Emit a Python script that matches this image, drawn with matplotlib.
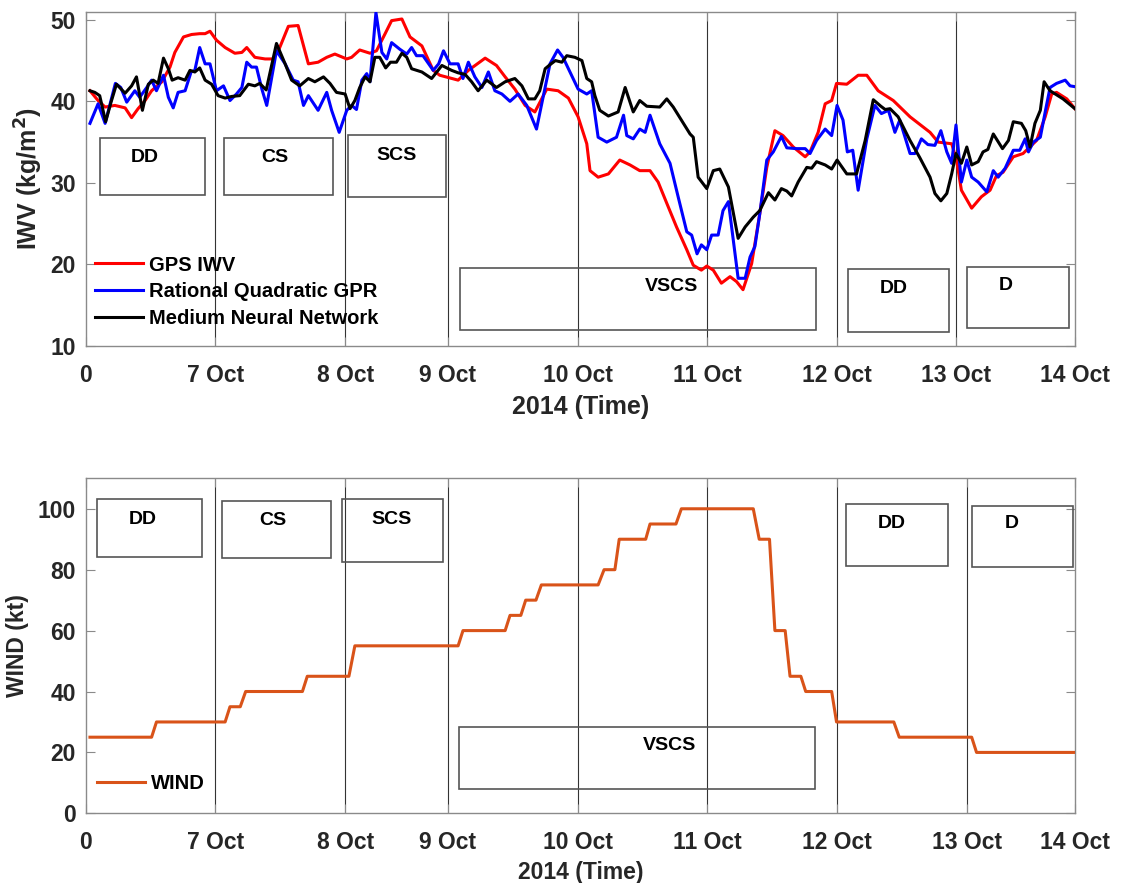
import matplotlib
matplotlib.use("Agg")
import matplotlib.pyplot as plt
from matplotlib.patches import Rectangle

# ---- data (x = hours since start of record) ----
gps_t = [0.8, 2.3, 3.6, 5.4, 7.3, 8.5, 9.7, 11, 12.2, 14.1,
         15.6, 16.5, 18.1, 19.6, 21.1, 22.1, 23, 24.2, 25.8, 27.6,
         28.9, 29.8, 31.3, 33.2, 34.7, 35.9, 37.5, 39.3, 41.2, 43.0,
         44.6, 46.1, 48.3, 49.2, 50.7, 52.6, 53.8, 55.4, 56.6, 58.5,
         60.0, 62.2, 64.3, 65.5, 68.9, 70.8, 73.9, 76.0, 77.6, 79.4,
         81.3, 83.1, 85.3, 87.4, 89.3, 91.1, 92.7, 93.3, 94.8, 96.7,
         98.8, 100.7, 102.5, 104.4, 105.9, 107.5, 109.3, 111.2, 112.4, 113.9,
         114.9, 116.1, 117.6, 119.2, 120.4, 121.6, 123.2, 124.7, 126.0, 127.5,
         129.0, 130.9, 133.1, 134.0, 135.5, 136.8, 138.0, 138.9, 140.8, 142.9,
         144.5, 146.6, 149.4, 152.5, 156.2, 157.7, 160.2, 161.1, 162.0, 163.9,
         165.7, 167.3, 168.5, 169.7, 171.6, 173.4, 175.9, 177.5, 178.7, 179.6,
         181.5, 183]
gps_iwv = [41.3, 40.1, 39.3, 39.5, 39.2, 38.0, 39.1, 40.1, 41.3, 42.4,
           44.2, 46.0, 47.9, 48.2, 48.3, 48.3, 48.6, 47.5, 46.6, 45.9,
           46.0, 46.6, 45.4, 45.2, 45.2, 46.6, 49.2, 49.3, 44.6, 44.8,
           45.4, 45.8, 45.2, 45.4, 46.3, 45.9, 46.2, 48.3, 49.9, 50.1,
           47.9, 46.8, 43.8, 43.2, 42.6, 43.8, 45.3, 44.4, 43.0, 41.5,
           39.5, 38.7, 41.5, 41.3, 40.4, 38.1, 34.8, 31.5, 30.7, 31.1,
           32.8, 32.2, 31.5, 31.5, 30.1, 27.5, 24.6, 21.8, 19.9, 19.3,
           19.8, 19.3, 17.7, 18.5, 17.9, 16.9, 20.1, 26.2, 31.9, 36.4,
           35.8, 34.4, 33.2, 33.8, 36.2, 39.7, 40.1, 42.2, 42.1, 43.2,
           43.2, 41.3, 40.1, 38.1, 36.2, 35.0, 34.8, 32.8, 29.1, 26.9,
           28.3, 29.1, 30.9, 31.3, 33.2, 33.6, 35.2, 38.1, 40.9, 41.1,
           40.3, 39.1]

gpr_t = [0.8, 2.3, 3.6, 5.5, 6.5, 7.6, 9.1, 10.0, 11.3, 12.2,
         13.1, 14.4, 15.3, 16.2, 17.1, 18.4, 19.5, 20.2, 21.1, 22.1,
         23.0, 24.2, 25.5, 26.7, 27.9, 28.9, 29.8, 30.7, 31.6, 32.6,
         33.5, 35.3, 36.9, 38.4, 39.3, 40.3, 41.2, 43.0, 44.6, 45.5,
         46.9, 48.3, 49.2, 50.1, 51.1, 52.0, 52.6, 53.7, 54.8, 55.7,
         56.6, 58.1, 59.4, 60.3, 61.2, 62.4, 64.3, 65.3, 66.2, 67.4,
         68.9, 69.8, 70.8, 72.0, 73.3, 74.5, 75.7, 77.0, 78.5, 80.0,
         81.6, 83.4, 85.0, 85.9, 87.3, 88.3, 89.6, 91.1, 92.7, 93.6,
         94.8, 96.4, 98.2, 99.5, 100.1, 101.3, 102.5, 103.5, 104.4, 106.2,
         108.1, 109.6, 111.2, 112.1, 113.1, 113.9, 114.9, 115.8, 117.0, 117.9,
         118.9, 119.8, 120.7, 122.0, 122.9, 123.8, 124.7, 126.0, 127.2, 128.7,
         129.7, 131.5, 133.1, 134.0, 135.2, 136.8, 138.0, 139.0, 140.1, 140.9,
         141.9, 142.9, 144.5, 146.0, 147.2, 148.5, 149.7, 150.6, 152.5, 153.4,
         154.6, 155.8, 157.1, 158.2, 159.3, 160.2, 161.0, 162.0, 163.0, 163.9,
         165.1, 166.7, 167.9, 168.8, 170.1, 171.6, 172.8, 173.8, 174.4, 175.3,
         176.6, 177.5, 178.4, 179.6, 181.2, 182.1, 183]
gpr_iwv = [37.3, 39.7, 37.3, 42.2, 41.7, 39.9, 41.3, 40.5, 41.7, 42.6,
           41.3, 43.2, 40.5, 39.2, 41.1, 41.3, 43.6, 43.8, 46.6, 44.6,
           44.6, 41.3, 41.9, 40.1, 40.9, 41.7, 44.8, 44.2, 44.2, 41.5,
           39.5, 46.2, 44.6, 42.6, 42.4, 39.5, 40.7, 38.9, 41.1, 38.9,
           36.2, 38.9, 39.5, 39.0, 42.6, 43.4, 42.4, 50.9, 46.0, 45.2,
           47.2, 46.4, 45.8, 46.6, 45.6, 45.6, 43.8, 44.6, 46.2, 44.6,
           44.6, 42.8, 44.8, 43.0, 41.7, 43.6, 41.3, 40.9, 40.0, 40.9,
           39.5, 36.6, 41.7, 44.6, 46.3, 45.4, 43.6, 41.5, 40.9, 41.3,
           35.6, 35.0, 35.6, 38.3, 35.8, 35.4, 36.6, 36.2, 38.3, 34.8,
           32.4, 28.3, 24.0, 23.6, 21.3, 22.4, 21.8, 23.6, 23.6, 26.6,
           27.7, 23.0, 18.3, 18.3, 20.9, 22.2, 26.2, 32.8, 33.8, 35.7,
           34.3, 34.2, 34.2, 33.6, 35.2, 36.6, 35.8, 39.5, 37.7, 33.8,
           34.0, 29.1, 35.4, 39.5, 38.5, 38.9, 36.2, 37.7, 33.6, 33.6,
           35.4, 34.7, 34.6, 36.4, 33.8, 32.4, 37.1, 30.1, 32.8, 30.7,
           30.1, 28.9, 31.5, 30.7, 31.8, 34.0, 34.0, 35.4, 33.8, 35.0,
           35.6, 38.7, 41.7, 42.2, 42.6, 41.9, 41.8]

nn_t = [0.8, 1.7, 2.6, 3.7, 4.7, 5.7, 7.3, 8.5, 9.4, 10.5,
        11.6, 12.5, 13.4, 14.4, 15.3, 16.0, 17.1, 18.4, 19.3, 20.2,
        21.1, 22.1, 23.3, 24.5, 25.8, 27.0, 28.5, 30.1, 31.3, 32.2,
        33.4, 35.3, 36.9, 38.1, 39.6, 41.2, 42.4, 44.0, 45.2, 46.4,
        48.0, 48.9, 49.8, 50.7, 51.7, 52.6, 53.5, 54.4, 55.5, 56.4,
        57.5, 58.5, 59.4, 60.3, 62.2, 64.0, 65.9, 67.7, 68.9, 70.2,
        71.4, 72.6, 74.2, 76.0, 77.6, 79.4, 80.7, 81.9, 83.1, 84.0,
        85.0, 85.9, 86.9, 88.1, 89.0, 90.5, 91.8, 92.7, 93.6, 94.2,
        95.1, 96.7, 98.5, 99.8, 101.3, 102.5, 103.8, 106.2, 107.5, 108.7,
        110.2, 111.8, 112.4, 113.3, 114.9, 116.1, 117.3, 118.9, 120.7, 122.0,
        123.5, 124.7, 126.3, 127.5, 128.7, 129.7, 130.6, 131.8, 133.4, 134.3,
        135.2, 136.8, 138.0, 139.0, 140.8, 142.6, 144.2, 145.7, 147.1, 147.9,
        148.8, 150.3, 152.5, 154.3, 156.2, 157.1, 158.2, 159.3, 160.2, 161.0,
        162.0, 163.0, 163.9, 165.1, 166.0, 166.9, 167.9, 169.6, 170.7, 171.6,
        173.1, 173.9, 174.7, 175.6, 176.6, 177.3, 178.4, 180.8, 183]
nn_iwv = [41.3, 41.1, 40.7, 37.5, 39.9, 42.1, 41.0, 41.9, 43.0, 38.9,
          42.1, 42.6, 42.2, 45.3, 44.0, 42.6, 42.9, 42.6, 43.8, 43.6,
          44.1, 42.6, 42.1, 40.7, 40.4, 40.6, 40.7, 42.1, 41.9, 42.2,
          41.4, 47.1, 44.6, 42.6, 41.9, 42.8, 42.4, 43.0, 42.2, 41.1,
          40.9, 39.1, 40.1, 41.7, 43.0, 42.4, 45.4, 45.4, 44.1, 44.8,
          44.8, 45.9, 45.4, 44.0, 43.6, 42.8, 44.4, 43.8, 43.5, 43.3,
          42.4, 41.3, 42.6, 41.7, 42.4, 42.8, 41.9, 40.3, 40.3, 41.3,
          44.0, 44.5, 45.0, 44.8, 45.6, 45.4, 45.0, 42.8, 42.4, 40.7,
          38.9, 38.2, 38.7, 41.7, 38.7, 40.1, 39.4, 39.3, 40.3, 39.3,
          37.7, 36.0, 35.6, 30.7, 29.3, 31.5, 31.7, 29.5, 23.2, 24.6,
          25.8, 26.6, 28.8, 27.9, 29.3, 29.0, 28.4, 30.1, 31.9, 31.8,
          32.6, 32.2, 31.7, 32.8, 31.1, 31.1, 35.2, 40.2, 39.4, 39.0,
          39.1, 38.1, 35.2, 33.1, 30.7, 28.7, 27.8, 28.7, 31.1, 33.6,
          32.4, 34.4, 32.2, 32.6, 33.8, 34.1, 36.0, 34.2, 35.2, 37.5,
          37.3, 36.4, 34.4, 37.3, 38.9, 42.4, 41.3, 40.3, 39.1]

wind_t = [0.8, 12.2, 13.1, 25.8, 26.7, 28.6, 29.6, 40.1, 41.0, 48.7,
          49.8, 68.9, 69.8, 77.6, 78.5, 80.5, 81.4, 83.3, 84.3, 94.8,
          95.9, 97.9, 98.7, 103.6, 104.4, 109.2, 110.2, 123.5, 124.6, 126.5,
          127.5, 129.4, 130.3, 132.3, 133.2, 138.0, 138.9, 149.5, 150.5, 163.9,
          164.8, 183]
wind_kt = [25, 25, 30, 30, 35, 35, 40, 40, 45, 45,
           55, 55, 60, 60, 65, 65, 70, 70, 75, 75,
           80, 80, 90, 90, 95, 95, 100, 100, 90, 90,
           60, 60, 45, 45, 40, 40, 30, 30, 25, 25,
           20, 20]

tick_labels = ["0", "7 Oct", "8 Oct", "9 Oct", "10 Oct", "11 Oct",
               "12 Oct", "13 Oct", "14 Oct"]
top_ticks = [0, 24, 48, 67, 91, 115, 139, 161, 183]
bottom_ticks = [0, 24, 48, 67, 91, 115, 139, 163, 183]

stages = ["DD", "CS", "SCS", "VSCS", "DD", "D"]

# ---- layout of the stage boxes (axes fraction: x0, x1, y0, y1, text x, text y) ----
top_boxes = [
    (0.0145, 0.1203, 0.451, 0.623, 0.060, 0.563),
    (0.1398, 0.2500, 0.451, 0.623, 0.1914, 0.563),
    (0.2654, 0.3639, 0.4466, 0.631, 0.3147, 0.571),
    (0.3787, 0.7385, 0.0479, 0.2324, 0.5923, 0.1765),
    (0.7702, 0.8723, 0.0428, 0.2294, 0.8171, 0.1705),
    (0.8908, 0.9942, 0.0529, 0.2372, 0.930, 0.1795),
]
bottom_boxes = [
    (0.0111, 0.1179, 0.766, 0.9373, 0.0576, 0.8785),
    (0.1378, 0.2480, 0.7612, 0.9331, 0.189, 0.8755),
    (0.2588, 0.3615, 0.751, 0.9382, 0.3096, 0.8785),
    (0.3773, 0.7372, 0.0716, 0.2585, 0.5906, 0.2039),
    (0.7688, 0.8713, 0.7391, 0.9233, 0.8153, 0.8666),
    (0.8962, 0.9983, 0.7343, 0.9182, 0.936, 0.8654),
]

plt.rcParams.update({
    "font.family": ["Liberation Sans", "DejaVu Sans"],
    "font.weight": "bold",
    "axes.labelweight": "bold",
})

TXT = "#262626"
FRAME = "#8a8a8a"


def style_axis(ax, ticks):
    ax.set_xlim(0, 183)
    ax.set_xticks(ticks)
    ax.set_xticklabels(tick_labels)
    for x in ticks[1:-1]:
        ax.axvline(x, color="#333333", linewidth=0.8, zorder=1)
    for side in ax.spines.values():
        side.set_color(FRAME)
        side.set_linewidth(1.0)
    ax.tick_params(axis="both", direction="in", length=6.5, width=0.8,
                   colors=FRAME, labelcolor=TXT, labelsize=16.5,
                   top=True, right=True)
    ax.tick_params(axis="x", pad=13)
    ax.tick_params(axis="y", pad=7)


def add_boxes(ax, boxes):
    for name, (x0, x1, y0, y1, tx, ty) in zip(stages, boxes):
        ax.add_patch(Rectangle((x0, y0), x1 - x0, y1 - y0, transform=ax.transAxes,
                               fill=False, edgecolor="#555555", linewidth=1.2,
                               clip_on=False, zorder=3))
        ax.text(tx, ty, name, transform=ax.transAxes, ha="center", va="center",
                fontsize=14, fontweight="bold", color="black", zorder=4)


fig = plt.figure(figsize=(11.21, 8.83), dpi=100)
ax1 = fig.add_axes([0.0764, 0.6082, 0.8825, 0.3786])
ax2 = fig.add_axes([0.0764, 0.0789, 0.8825, 0.3794])

# top panel: IWV
ax1.plot(gps_t, gps_iwv, color="#ff0000", linewidth=2.2, label="GPS IWV", zorder=5)
ax1.plot(gpr_t, gpr_iwv, color="#0000ff", linewidth=2.2,
         label="Rational Quadratic GPR", zorder=6)
ax1.plot(nn_t, nn_iwv, color="black", linewidth=2.2,
         label="Medium Neural Network", zorder=7)
ax1.set_ylim(10, 51)
ax1.set_yticks([10, 20, 30, 40, 50])
style_axis(ax1, top_ticks)
ax1.set_xlabel("2014 (Time)", fontsize=18, color=TXT, labelpad=6)
ax1.set_ylabel("IWV (kg/m$^\\mathbf{2}$)", fontsize=18, color=TXT, labelpad=4)
add_boxes(ax1, top_boxes)
ax1.legend(loc="center left", bbox_to_anchor=(0.0094, 0.1624), frameon=False,
           fontsize=14.5, handlelength=2.4, handletextpad=0.3,
           labelspacing=0.38, borderpad=0, borderaxespad=0)

# bottom panel: wind
ax2.plot(wind_t, wind_kt, color="#d95319", linewidth=2.2, label="WIND", zorder=5)
ax2.set_ylim(0, 110)
ax2.set_yticks([0, 20, 40, 60, 80, 100])
style_axis(ax2, bottom_ticks)
ax2.set_xlabel("2014 (Time)", fontsize=16.5, color=TXT, labelpad=5)
ax2.set_ylabel("WIND (kt)", fontsize=16.5, color=TXT, labelpad=6)
add_boxes(ax2, bottom_boxes)
ax2.legend(loc="center left", bbox_to_anchor=(0.0111, 0.0896), frameon=False,
           fontsize=14.5, handlelength=2.4, handletextpad=0.3,
           borderpad=0, borderaxespad=0)

fig.savefig("out.png", dpi=100)
